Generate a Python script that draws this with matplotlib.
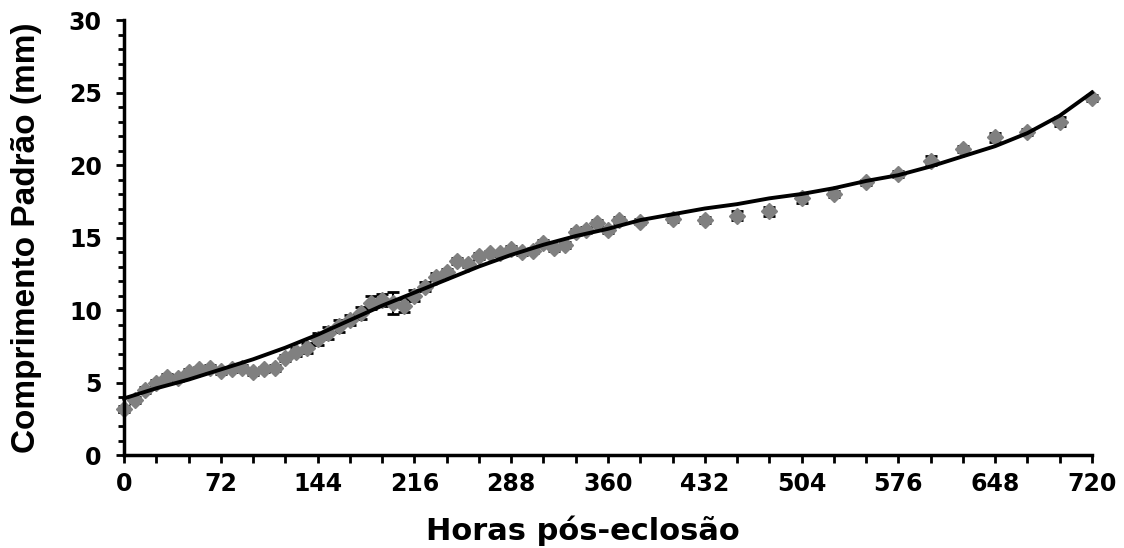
import matplotlib
matplotlib.use("Agg")
import matplotlib.pyplot as plt
from matplotlib.ticker import MultipleLocator

# ------------------------- DADOS -------------------------
# horas pos-eclosao das medicoes
horas = [0, 8, 16, 24, 32, 40, 48, 56, 64, 72, 80, 88, 96, 104, 112, 120,
         128, 136, 144, 152, 160, 168, 176, 184, 192, 200, 208, 216, 224,
         232, 240, 248, 256, 264, 272, 280, 288, 296, 304, 312, 320, 328,
         336, 344, 352, 360, 368, 384, 408, 432, 456, 480, 504, 528, 552,
         576, 600, 624, 648, 672, 696, 720]
# comprimento padrao medio (mm)
comprimento = [3.2, 3.8, 4.5, 5.0, 5.4, 5.3, 5.7, 5.9, 6.0, 5.8, 5.9, 6.0,
               5.7, 5.9, 6.0, 6.7, 7.1, 7.4, 8.0, 8.4, 8.9, 9.3, 9.8, 10.5,
               10.7, 10.5, 10.3, 11.0, 11.6, 12.3, 12.6, 13.4, 13.2, 13.7,
               13.9, 13.9, 14.2, 14.0, 14.1, 14.6, 14.3, 14.5, 15.4, 15.5,
               16.0, 15.5, 16.2, 16.1, 16.3, 16.2, 16.5, 16.8, 17.7, 18.0,
               18.8, 19.4, 20.3, 21.1, 21.9, 22.3, 23.0, 24.6]
# desvio padrao (mm)
desvio = [0.2, 0.2, 0.2, 0.2, 0.2, 0.2, 0.2, 0.2, 0.2, 0.2, 0.2, 0.2,
          0.2, 0.2, 0.2, 0.2, 0.3, 0.35, 0.4, 0.4, 0.4, 0.35, 0.4, 0.45,
          0.4, 0.75, 0.45, 0.35, 0.3, 0.25, 0.25, 0.2, 0.2, 0.2,
          0.2, 0.2, 0.2, 0.2, 0.2, 0.2, 0.2, 0.2, 0.2, 0.2,
          0.2, 0.2, 0.2, 0.2, 0.2, 0.2, 0.3, 0.3, 0.3, 0.2,
          0.2, 0.2, 0.3, 0.2, 0.3, 0.2, 0.3, 0.2]

# curva ajustada (lida a cada 24 h)
horas_ajuste = [0, 24, 48, 72, 96, 120, 144, 168, 192, 216, 240, 264, 288,
                312, 336, 360, 384, 408, 432, 456, 480, 504, 528, 552, 576,
                600, 624, 648, 672, 696, 720]
comp_ajuste = [3.9, 4.6, 5.2, 5.9, 6.6, 7.4, 8.3, 9.3, 10.3, 11.2, 12.1,
               13.0, 13.8, 14.5, 15.1, 15.6, 16.2, 16.6, 17.0, 17.3, 17.7,
               18.0, 18.4, 18.9, 19.3, 19.9, 20.6, 21.3, 22.2, 23.4, 25.0]

x_ticks = [0, 72, 144, 216, 288, 360, 432, 504, 576, 648, 720]
y_ticks = [0, 5, 10, 15, 20, 25, 30]
# ---------------------------------------------------------

fig = plt.figure(figsize=(11.24, 5.48), dpi=100)
ax = fig.add_axes([0.1103, 0.1697, 0.8612, 0.7938])

# barras de erro (atras dos marcadores)
ax.errorbar(horas, comprimento, yerr=desvio, fmt="none", ecolor="black",
            elinewidth=1.5, capsize=4.5, capthick=2, zorder=1, clip_on=False)
# pontos
ax.plot(horas, comprimento, linestyle="none", marker="D", markersize=8.5,
        color="#808080", markeredgecolor="#808080", zorder=2, clip_on=False)
# linha de tendencia
ax.plot(horas_ajuste, comp_ajuste, color="black", linewidth=2.8,
        zorder=3, clip_on=False)

ax.set_xlim(0, 720)
ax.set_ylim(0, 30)
ax.set_xticks(x_ticks)
ax.set_yticks(y_ticks)
ax.xaxis.set_minor_locator(MultipleLocator(24))
ax.yaxis.set_minor_locator(MultipleLocator(1))

for s in ["top", "right"]:
    ax.spines[s].set_visible(False)
for s in ["left", "bottom"]:
    ax.spines[s].set_linewidth(2.5)

ax.tick_params(axis="x", which="both", direction="out", length=6, width=2,
               pad=6, labelsize=17)
ax.tick_params(axis="y", which="major", direction="out", length=6, width=2,
               pad=10, labelsize=17)
ax.tick_params(axis="y", which="minor", direction="out", length=4, width=2)

for lbl in ax.get_xticklabels() + ax.get_yticklabels():
    lbl.set_fontfamily("DejaVu Sans")
    lbl.set_fontweight("bold")

ax.set_xlabel("Horas pós-eclosão", fontsize=22, fontweight="bold",
              fontfamily="DejaVu Sans")
ax.xaxis.set_label_coords(0.474, -0.14)
ax.set_ylabel("Comprimento Padrão (mm)", fontsize=24, fontweight="bold",
              fontfamily="Liberation Sans")
ax.yaxis.set_label_coords(-0.085, 0.5)

fig.savefig("out.png", dpi=100)
